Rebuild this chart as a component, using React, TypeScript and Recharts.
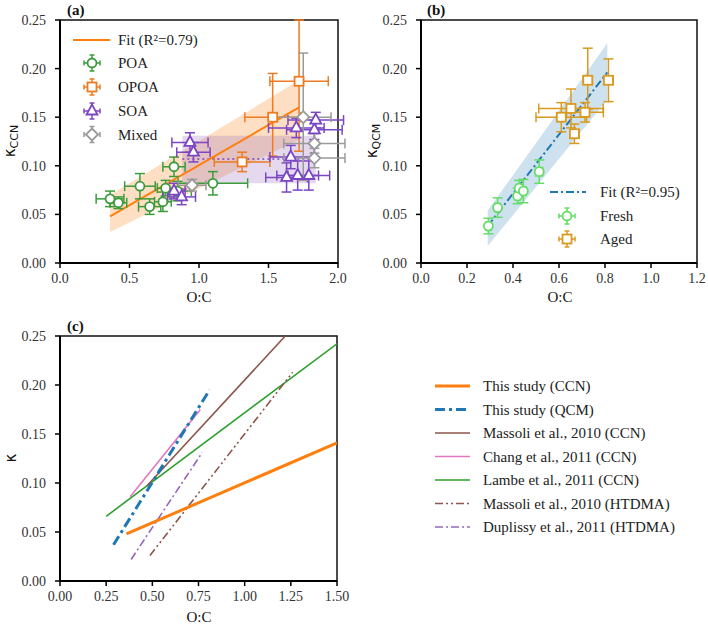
import React from 'react';
import { ComposedChart, Scatter, Line, Area, XAxis, YAxis, ErrorBar, ReferenceArea } from 'recharts';

// ---------- Panel (a) data ----------
const xTicksA = [0, 0.5, 1.0, 1.5, 2.0];
const yTicks = [0, 0.05, 0.1, 0.15, 0.2, 0.25];
const poaPoints = [
  { x: 0.36, y: 0.066, ex: 0.1, ey: 0.008 },
  { x: 0.42, y: 0.062, ex: 0.06, ey: 0.006 },
  { x: 0.575, y: 0.079, ex: 0.11, ey: 0.013 },
  { x: 0.645, y: 0.058, ex: 0.08, ey: 0.008 },
  { x: 0.74, y: 0.063, ex: 0.06, ey: 0.01 },
  { x: 0.76, y: 0.077, ex: 0.06, ey: 0.008 },
  { x: 0.82, y: 0.099, ex: 0.08, ey: 0.01 },
  { x: 0.845, y: 0.074, ex: 0.1, ey: 0.01 },
  { x: 1.1, y: 0.082, ex: 0.25, ey: 0.012 },
];
const opoaPoints = [
  { x: 1.31, y: 0.104, ex: 0.2, ey: 0.01 },
  { x: 1.53, y: 0.15, ex: 0.2, ey: [0.04, 0.045] },
  { x: 1.72, y: 0.187, ex: 0.21, ey: [0.072, 0.063] },
];
const soaPoints = [
  { x: 0.82, y: 0.074, ex: 0.08, ey: 0.008 },
  { x: 0.875, y: 0.068, ex: 0.1, ey: 0.008 },
  { x: 0.935, y: 0.124, ex: 0.13, ey: 0.01 },
  { x: 0.96, y: 0.114, ex: 0.12, ey: 0.01 },
  { x: 1.63, y: 0.088, ex: 0.15, ey: 0.015 },
  { x: 1.66, y: 0.109, ex: 0.15, ey: 0.012 },
  { x: 1.71, y: 0.09, ex: 0.15, ey: 0.015 },
  { x: 1.79, y: 0.09, ex: 0.15, ey: 0.015 },
  { x: 1.7, y: 0.139, ex: 0.2, ey: 0.01 },
  { x: 1.83, y: 0.137, ex: 0.2, ey: 0.01 },
  { x: 1.84, y: 0.147, ex: 0.2, ey: 0.008 },
];
const mixedPoints = [
  { x: 0.95, y: 0.08, ex: 0.1, ey: 0.006 },
  { x: 1.75, y: 0.15, ex: 0.2, ey: [0.065, 0.066] },
  { x: 1.83, y: 0.123, ex: 0.22, ey: 0.01 },
  { x: 1.83, y: 0.108, ex: 0.22, ey: 0.01 },
];
const fitA = [{ x: 0.36, y: 0.048 }, { x: 1.72, y: 0.16 }];
const bandA = [{ x: 0.36, r: [0.032, 0.07] }, { x: 1.72, r: [0.127, 0.188] }];
const soaBand = [{ x: 0.88, r: [0.082, 0.131] }, { x: 1.84, r: [0.082, 0.131] }];
const soaMean = [{ x: 0.88, y: 0.107 }, { x: 1.84, y: 0.107 }];

// ---------- Panel (b) data ----------
const xTicksB = [0, 0.2, 0.4, 0.6, 0.8, 1.0, 1.2];
const freshPoints = [
  { x: 0.293, y: 0.038, ex: 0.01, ey: 0.008 },
  { x: 0.333, y: 0.057, ex: 0.012, ey: 0.01 },
  { x: 0.42, y: 0.069, ex: 0.01, ey: 0.008 },
  { x: 0.427, y: 0.077, ex: 0.01, ey: 0.008 },
  { x: 0.445, y: 0.074, ex: 0.012, ey: 0.012 },
  { x: 0.514, y: 0.094, ex: 0.015, ey: 0.012 },
];
const agedPoints = [
  { x: 0.725, y: 0.188, ex: 0.02, ey: [0.03, 0.033] },
  { x: 0.815, y: 0.188, ex: 0.02, ey: 0.022 },
  { x: 0.652, y: 0.159, ex: 0.14, ey: 0.02 },
  { x: 0.61, y: 0.15, ex: 0.11, ey: 0.015 },
  { x: 0.713, y: 0.155, ex: 0.08, ey: 0.01 },
  { x: 0.667, y: 0.133, ex: 0.02, ey: 0.01 },
];
const fitB = [{ x: 0.29, y: 0.038 }, { x: 0.81, y: 0.196 }];
const bandB = [{ x: 0.29, r: [0.0175, 0.054] }, { x: 0.81, r: [0.168, 0.226] }];

// ---------- Panel (c) data ----------
const xTicksC = [0, 0.25, 0.5, 0.75, 1.0, 1.25, 1.5];
const ccnThisStudy = [{ x: 0.36, y: 0.048 }, { x: 1.5, y: 0.141 }];
const qcmThisStudy = [{ x: 0.29, y: 0.037 }, { x: 0.81, y: 0.195 }];
const massoliCCN = [{ x: 0.47, y: 0.097 }, { x: 1.22, y: 0.25 }];
const changCCN = [{ x: 0.38, y: 0.086 }, { x: 0.76, y: 0.175 }];
const lambeCCN = [{ x: 0.25, y: 0.066 }, { x: 1.5, y: 0.242 }];
const massoliHTDMA = [{ x: 0.487, y: 0.026 }, { x: 1.26, y: 0.213 }];
const duplissyHTDMA = [{ x: 0.385, y: 0.022 }, { x: 0.77, y: 0.131 }];
const legendC = [
  'This study (CCN)',
  'This study (QCM)',
  'Massoli et al., 2010 (CCN)',
  'Chang et al., 2011 (CCN)',
  'Lambe et al., 2011 (CCN)',
  'Massoli et al., 2010 (HTDMA)',
  'Duplissy et al., 2011 (HTDMA)',
];

// ---------- styles ----------
const FONT = "'Liberation Serif', 'Times New Roman', serif";
const C_POA = '#3c9b3c';
const C_OPOA = '#ee7b22';
const C_SOA = '#7b45c4';
const C_MIX = '#9a9a9a';
const C_FRESH = '#66dd66';
const C_AGED = '#d99a1f';
const C_BLUE = '#1f77b4';
const C_ORANGE = '#ff7f0e';
const C_BROWN = '#8c564b';
const C_PINK = '#e377c2';
const C_GREEN = '#2ca02c';
const C_PURPLE = '#9467bd';

const tickStyle = { fontFamily: FONT, fontSize: 14, fill: '#333' };

const circleShape = (color: string, r: number) => (p: any) =>
  p.cx == null ? <g /> : <circle cx={p.cx} cy={p.cy} r={r} fill="#fff" stroke={color} strokeWidth={1.8} />;
const squareShape = (color: string, s: number) => (p: any) =>
  p.cx == null ? <g /> : <rect x={p.cx - s / 2} y={p.cy - s / 2} width={s} height={s} fill="#fff" stroke={color} strokeWidth={1.8} />;
const triShape = (color: string) => (p: any) =>
  p.cx == null ? <g /> : (
    <polygon points={`${p.cx},${p.cy - 6.5} ${p.cx - 5.5},${p.cy + 3.5} ${p.cx + 5.5},${p.cy + 3.5}`} fill="#fff" stroke={color} strokeWidth={1.8} />
  );
const diaShape = (color: string) => (p: any) =>
  p.cx == null ? <g /> : (
    <polygon points={`${p.cx},${p.cy - 6} ${p.cx + 6},${p.cy} ${p.cx},${p.cy + 6} ${p.cx - 6},${p.cy}`} fill="#fff" stroke={color} strokeWidth={1.8} />
  );

function xAxisEl(domain: number[], ticks: number[], digits: number) {
  return (
    <XAxis
      dataKey="x"
      type="number"
      domain={domain}
      ticks={ticks}
      interval={0}
      allowDataOverflow
      tickFormatter={(v: number) => v.toFixed(digits)}
      axisLine={{ stroke: '#000', strokeWidth: 2 }}
      tickLine={{ stroke: '#000', strokeWidth: 1.5 }}
      tickSize={5}
      tickMargin={5}
      tick={tickStyle}
      height={30}
    />
  );
}
function yAxisEl(width: number) {
  return (
    <YAxis
      dataKey="y"
      type="number"
      domain={[0, 0.25]}
      ticks={yTicks}
      interval={0}
      allowDataOverflow
      tickFormatter={(v: number) => v.toFixed(2)}
      axisLine={{ stroke: '#000', strokeWidth: 2 }}
      tickLine={{ stroke: '#000', strokeWidth: 1.5 }}
      tickSize={5}
      tickMargin={9}
      tick={tickStyle}
      width={width}
    />
  );
}

function errs(color: string) {
  return [
    <ErrorBar key="ex" dataKey="ex" direction="x" stroke={color} strokeWidth={1.5} width={5} />,
    <ErrorBar key="ey" dataKey="ey" direction="y" stroke={color} strokeWidth={1.5} width={5} />,
  ];
}

function Marker({ kind, color, cx, cy }: { kind: string; color: string; cx: number; cy: number }) {
  const e = 8;
  const shape =
    kind === 'circle' ? <circle cx={cx} cy={cy} r={4.5} fill="#fff" stroke={color} strokeWidth={1.8} /> :
    kind === 'square' ? <rect x={cx - 4.5} y={cy - 4.5} width={9} height={9} fill="#fff" stroke={color} strokeWidth={1.8} /> :
    kind === 'tri' ? <polygon points={`${cx},${cy - 6.5} ${cx - 5.5},${cy + 3.5} ${cx + 5.5},${cy + 3.5}`} fill="#fff" stroke={color} strokeWidth={1.8} /> :
    <polygon points={`${cx},${cy - 6} ${cx + 6},${cy} ${cx},${cy + 6} ${cx - 6},${cy}`} fill="#fff" stroke={color} strokeWidth={1.8} />;
  return (
    <g>
      <line x1={cx - e} x2={cx + e} y1={cy} y2={cy} stroke={color} strokeWidth={1.5} />
      <line x1={cx} x2={cx} y1={cy - e} y2={cy + e} stroke={color} strokeWidth={1.5} />
      <line x1={cx - e} x2={cx - e} y1={cy - 2.5} y2={cy + 2.5} stroke={color} strokeWidth={1.5} />
      <line x1={cx + e} x2={cx + e} y1={cy - 2.5} y2={cy + 2.5} stroke={color} strokeWidth={1.5} />
      <line x1={cx - 2.5} x2={cx + 2.5} y1={cy - e} y2={cy - e} stroke={color} strokeWidth={1.5} />
      <line x1={cx - 2.5} x2={cx + 2.5} y1={cy + e} y2={cy + e} stroke={color} strokeWidth={1.5} />
      {shape}
    </g>
  );
}

const legendCStyles = [
  { color: C_ORANGE, w: 3, dash: undefined },
  { color: C_BLUE, w: 3, dash: '10 4 3 4' },
  { color: C_BROWN, w: 1.6, dash: undefined },
  { color: C_PINK, w: 1.6, dash: undefined },
  { color: C_GREEN, w: 1.6, dash: undefined },
  { color: C_BROWN, w: 1.6, dash: '8 3 2 3 2 3' },
  { color: C_PURPLE, w: 1.6, dash: '8 3 2 3' },
];

export default function App() {
  return (
    <div style={{ position: 'absolute', left: 0, top: 0, width: 708, height: 627, background: '#fff' }}>
      {/* Panel (a) */}
      <div style={{ position: 'absolute', left: 0, top: 0 }}>
        <ComposedChart width={350} height={300} margin={{ top: 20, right: 12, bottom: 7, left: 0 }}>
          {xAxisEl([0, 2], xTicksA, 1)}
          {yAxisEl(60)}
          <Area data={bandA} dataKey="r" type="linear" fill={C_ORANGE} fillOpacity={0.25} stroke="none" isAnimationActive={false} />
          <Area data={soaBand} dataKey="r" type="linear" fill={C_PURPLE} fillOpacity={0.25} stroke="none" isAnimationActive={false} />
          <Line data={soaMean} dataKey="y" type="linear" stroke={C_SOA} strokeWidth={1.5} strokeDasharray="2 3" dot={false} isAnimationActive={false} />
          <Line data={fitA} dataKey="y" type="linear" stroke={C_ORANGE} strokeWidth={2} dot={false} isAnimationActive={false} />
          <Scatter data={poaPoints} shape={circleShape(C_POA, 4.5)} isAnimationActive={false}>{errs(C_POA)}</Scatter>
          <Scatter data={opoaPoints} shape={squareShape(C_OPOA, 9)} isAnimationActive={false}>{errs(C_OPOA)}</Scatter>
          <Scatter data={soaPoints} shape={triShape(C_SOA)} isAnimationActive={false}>{errs(C_SOA)}</Scatter>
          <Scatter data={mixedPoints} shape={diaShape(C_MIX)} isAnimationActive={false}>{errs(C_MIX)}</Scatter>
          <ReferenceArea x1={0} x2={2} y1={0} y2={0.25} fill="none" stroke="#111" strokeWidth={1.5} ifOverflow="visible" />
        </ComposedChart>
      </div>

      {/* Panel (b) */}
      <div style={{ position: 'absolute', left: 362, top: 0 }}>
        <ComposedChart width={346} height={300} margin={{ top: 20, right: 11, bottom: 7, left: 0 }}>
          {xAxisEl([0, 1.2], xTicksB, 1)}
          {yAxisEl(59)}
          <Area data={bandB} dataKey="r" type="linear" fill={C_BLUE} fillOpacity={0.22} stroke="none" isAnimationActive={false} />
          <Line data={fitB} dataKey="y" type="linear" stroke={C_BLUE} strokeWidth={2} strokeDasharray="8 3 2 3" dot={false} isAnimationActive={false} />
          <Scatter data={freshPoints} shape={circleShape(C_FRESH, 4.5)} isAnimationActive={false}>{errs(C_FRESH)}</Scatter>
          <Scatter data={agedPoints} shape={squareShape(C_AGED, 9)} isAnimationActive={false}>{errs(C_AGED)}</Scatter>
          <ReferenceArea x1={0} x2={1.2} y1={0} y2={0.25} fill="none" stroke="#111" strokeWidth={1.5} ifOverflow="visible" />
        </ComposedChart>
      </div>

      {/* Panel (c) */}
      <div style={{ position: 'absolute', left: 0, top: 316 }}>
        <ComposedChart width={350} height={311} margin={{ top: 20, right: 13, bottom: 16, left: 0 }}>
          {xAxisEl([0, 1.5], xTicksC, 2)}
          {yAxisEl(60)}
          <Line data={lambeCCN} dataKey="y" type="linear" stroke={C_GREEN} strokeWidth={1.6} dot={false} isAnimationActive={false} />
          <Line data={changCCN} dataKey="y" type="linear" stroke={C_PINK} strokeWidth={1.6} dot={false} isAnimationActive={false} />
          <Line data={massoliCCN} dataKey="y" type="linear" stroke={C_BROWN} strokeWidth={1.6} dot={false} isAnimationActive={false} />
          <Line data={massoliHTDMA} dataKey="y" type="linear" stroke={C_BROWN} strokeWidth={1.6} strokeDasharray="8 3 2 3 2 3" dot={false} isAnimationActive={false} />
          <Line data={duplissyHTDMA} dataKey="y" type="linear" stroke={C_PURPLE} strokeWidth={1.6} strokeDasharray="8 3 2 3" dot={false} isAnimationActive={false} />
          <Line data={ccnThisStudy} dataKey="y" type="linear" stroke={C_ORANGE} strokeWidth={3} dot={false} isAnimationActive={false} />
          <Line data={qcmThisStudy} dataKey="y" type="linear" stroke={C_BLUE} strokeWidth={3} strokeDasharray="10 4 3 4" dot={false} isAnimationActive={false} />
          <ReferenceArea x1={0} x2={1.5} y1={0} y2={0.25} fill="none" stroke="#111" strokeWidth={1.5} ifOverflow="visible" />
        </ComposedChart>
      </div>

      {/* Text overlay: panel labels, axis titles, legends */}
      <svg width={708} height={627} style={{ position: 'absolute', left: 0, top: 0, pointerEvents: 'none' }}>
        <g fontFamily={FONT} fill="#111">
          <text x={67} y={15} fontSize={15} fontWeight="bold">(a)</text>
          <text x={427} y={15} fontSize={15} fontWeight="bold">(b)</text>
          <text x={67} y={331} fontSize={15} fontWeight="bold">(c)</text>
          <text x={199} y={302} fontSize={15} textAnchor="middle">O:C</text>
          <text x={560} y={302} fontSize={15} textAnchor="middle">O:C</text>
          <text x={199} y={622} fontSize={15} textAnchor="middle">O:C</text>
        </g>
        <g fontFamily="'DejaVu Sans', sans-serif" fill="#111">
          <text transform="translate(15,141) rotate(-90)" textAnchor="middle" fontSize={15}>
            κ<tspan fontSize={11} dy={3}>CCN</tspan>
          </text>
          <text transform="translate(377,141) rotate(-90)" textAnchor="middle" fontSize={15}>
            κ<tspan fontSize={11} dy={3}>QCM</tspan>
          </text>
          <text transform="translate(16,458) rotate(-90)" textAnchor="middle" fontSize={15}>κ</text>
        </g>

        {/* Legend (a) */}
        <line x1={73} x2={110} y1={40} y2={40} stroke={C_ORANGE} strokeWidth={2} />
        <Marker kind="circle" color={C_POA} cx={92} cy={63} />
        <Marker kind="square" color={C_OPOA} cx={92} cy={87} />
        <Marker kind="tri" color={C_SOA} cx={92} cy={111} />
        <Marker kind="dia" color={C_MIX} cx={92} cy={134.5} />
        <g fontFamily={FONT} fontSize={15} fill="#222">
          <text x={118} y={45}>Fit (R²=0.79)</text>
          <text x={118} y={68}>POA</text>
          <text x={118} y={92}>OPOA</text>
          <text x={118} y={116}>SOA</text>
          <text x={118} y={139.5}>Mixed</text>
        </g>

        {/* Legend (b) */}
        <line x1={550} x2={586} y1={192} y2={192} stroke={C_BLUE} strokeWidth={2} strokeDasharray="8 3 2 3" />
        <Marker kind="circle" color={C_FRESH} cx={567} cy={216} />
        <Marker kind="square" color={C_AGED} cx={567} cy={239} />
        <g fontFamily={FONT} fontSize={15} fill="#222">
          <text x={600} y={197}>Fit (R²=0.95)</text>
          <text x={600} y={221}>Fresh</text>
          <text x={600} y={244}>Aged</text>
        </g>

        {/* Legend (c) */}
        {legendC.map((label, i) => {
          const y = 386 + i * 23.5;
          const st = legendCStyles[i];
          return (
            <g key={label}>
              <line x1={435} x2={470} y1={y} y2={y} stroke={st.color} strokeWidth={st.w} strokeDasharray={st.dash} />
              <text x={483} y={y + 5} fontFamily={FONT} fontSize={15} fill="#222">{label}</text>
            </g>
          );
        })}
      </svg>
    </div>
  );
}
